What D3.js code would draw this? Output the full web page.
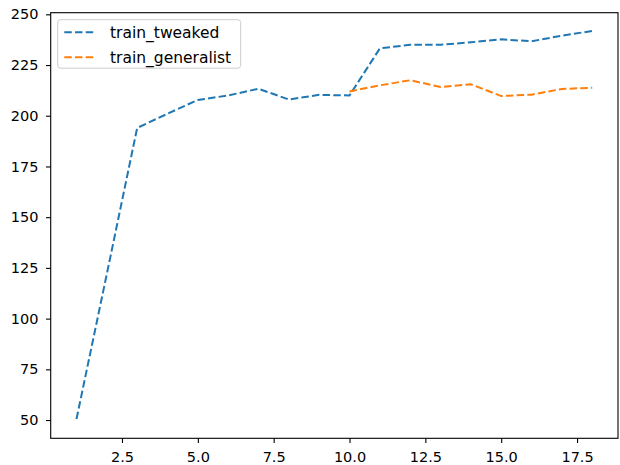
<!DOCTYPE html>
<html>
<head>
<meta charset="utf-8">
<script src="https://cdn.jsdelivr.net/npm/d3@7"></script>
<style>
  body { margin: 0; background: #fff; }
  svg text { font-family: "DejaVu Sans", sans-serif; }
  .axis text { fill: #000; }
  .axis path, .axis line { stroke: #000; stroke-width: 1.1; }
</style>
</head>
<body>
<svg width="620" height="465"></svg>
<script>
var epochs = [1, 2, 3, 4, 5, 6, 7, 8, 9, 10, 11, 12, 13, 14, 15, 16, 17, 18];
var tweaked = [50.5, 122, 194, 201, 207.8, 210, 213.3, 208, 210.3, 210, 233.2, 235, 235, 236.2, 237.7, 236.7, 239.5, 241.8];
var genEpochs = [10, 11, 12, 13, 14, 15, 16, 17, 18];
var generalist = [212, 215, 217.5, 214.2, 215.5, 209.7, 210.4, 213.2, 213.8];
var xTicks = [2.5, 5, 7.5, 10, 12.5, 15, 17.5];
var yTicks = [50, 75, 100, 125, 150, 175, 200, 225, 250];
var seriesNames = ["train_tweaked", "train_generalist"];
var colors = ["#1f77b4", "#ff7f0e"];

var plot = {left: 50.7, right: 618, top: 12.7, bottom: 438.3};

var x = d3.scaleLinear().domain([0.15, 18.85]).range([plot.left, plot.right]);
var y = d3.scaleLinear().domain([41.0, 250.8]).range([plot.bottom, plot.top]);

var svg = d3.select("svg");

// lines
var line = d3.line()
    .x(function(d) { return x(d[0]); })
    .y(function(d) { return y(d[1]); });

var series = [
  d3.zip(epochs, tweaked),
  d3.zip(genEpochs, generalist)
];

svg.selectAll(".series")
    .data(series)
    .enter().append("path")
    .attr("class", "series")
    .attr("d", line)
    .style("fill", "none")
    .style("stroke", function(d, i) { return colors[i]; })
    .style("stroke-width", 2)
    .style("stroke-dasharray", "7.5,3.2");

// axes
var xAxis = d3.axisBottom(x).tickValues(xTicks)
    .tickFormat(d3.format(".1f")).tickSize(4.7).tickPadding(8.5).tickSizeOuter(0);
var yAxis = d3.axisLeft(y).tickValues(yTicks)
    .tickFormat(d3.format("d")).tickSize(4.7).tickPadding(7.5).tickSizeOuter(0);

svg.append("g")
    .attr("class", "x axis")
    .attr("transform", "translate(0," + plot.bottom + ")")
    .call(xAxis)
    .call(function(g) { g.select(".domain").remove(); });

svg.append("g")
    .attr("class", "y axis")
    .attr("transform", "translate(" + plot.left + ",0)")
    .call(yAxis)
    .call(function(g) { g.select(".domain").remove(); });

svg.selectAll(".axis text")
    .style("font-family", "'DejaVu Sans', sans-serif")
    .style("font-size", "14.5px");

// frame
svg.append("rect")
    .attr("x", plot.left)
    .attr("y", plot.top)
    .attr("width", plot.right - plot.left)
    .attr("height", plot.bottom - plot.top)
    .style("fill", "none")
    .style("stroke", "#000")
    .style("stroke-width", 1.1);

// legend
var legend = svg.append("g").attr("class", "legend");

legend.append("rect")
    .attr("x", 57.7)
    .attr("y", 19.7)
    .attr("width", 183)
    .attr("height", 48.5)
    .attr("rx", 3)
    .style("fill", "rgba(255,255,255,0.8)")
    .style("stroke", "#cccccc")
    .style("stroke-width", 1);

var item = legend.selectAll(".item")
    .data(seriesNames)
    .enter().append("g")
    .attr("class", "item")
    .attr("transform", function(d, i) { return "translate(0," + (32.3 + i * 25) + ")"; });

item.append("line")
    .attr("x1", 64.3)
    .attr("x2", 96)
    .style("stroke", function(d, i) { return colors[i]; })
    .style("stroke-width", 2)
    .style("stroke-dasharray", "7.5,3.2");

item.append("text")
    .attr("x", 110)
    .attr("dy", "0.35em")
    .style("font-size", "15.5px")
    .text(function(d) { return d; });
</script>
</body>
</html>
